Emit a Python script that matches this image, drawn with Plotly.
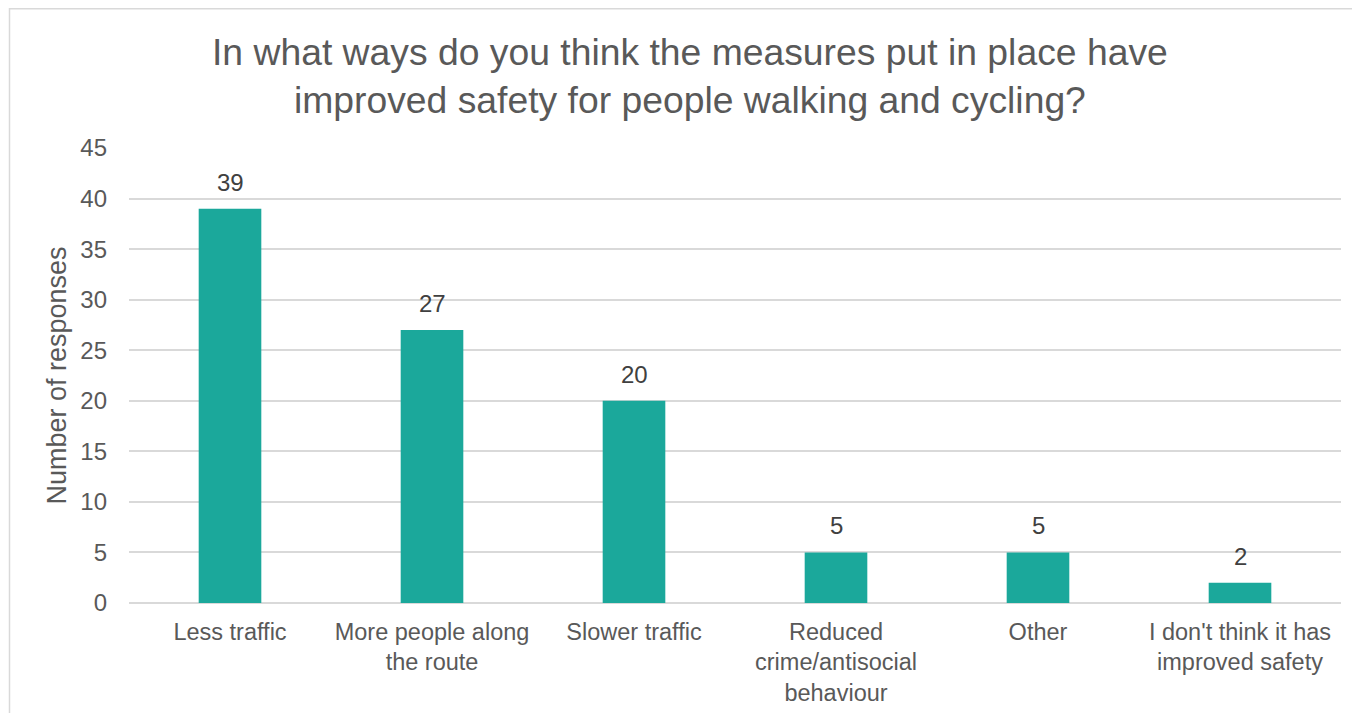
import plotly.graph_objects as go

categories = [
    "Less traffic",
    "More people along<br>the route",
    "Slower traffic",
    "Reduced<br>crime/antisocial<br>behaviour",
    "Other",
    "I don't think it has<br>improved safety",
]
responses = [39, 27, 20, 5, 5, 2]
y_ticks = [0, 5, 10, 15, 20, 25, 30, 35, 40, 45]
title_text = ("In what ways do you think the measures put in place have<br>"
              "improved safety for people walking and cycling?")

FONT = "Liberation Sans, Arial, sans-serif"
BAR = "#1BA89B"
GRID = "#D9D9D9"
TXT = "#595959"

# page has an 8px body margin, so the figure is sized to the visible area
W, H = 1352, 705
L, R, T, B = 121, 19, 140, 110
pw, ph = W - L - R, H - T - B

fig = go.Figure()
fig.add_trace(go.Bar(
    x=categories, y=responses, marker=dict(color=BAR, line=dict(width=0)),
    width=0.31, hoverinfo="x+y",
))

for c, v in zip(categories, responses):
    fig.add_annotation(x=c, y=v, text=str(v), showarrow=False, yanchor="bottom",
                       yshift=11, font=dict(family=FONT, size=24, color="#404040"))

# title as an annotation centred on the two lines
fig.add_annotation(text=title_text, xref="paper", yref="paper",
                   x=(682 - L) / pw, y=1 + (T - 67.5) / ph, xanchor="center", yanchor="middle",
                   showarrow=False, font=dict(family=FONT, size=37.3, color=TXT))

x0 = (1.5 - L) / pw
y0 = 1 + (T - 0.75) / ph
fig.add_shape(type="path", xref="paper", yref="paper",
              path=f"M {x0} -0.5 L {x0} {y0} L 1.2 {y0}",
              line=dict(color=GRID, width=1.5))

fig.update_layout(
    width=W, height=H,
    margin=dict(l=L, r=R, t=T, b=B, autoexpand=False),
    paper_bgcolor="white", plot_bgcolor="white",
    font=dict(family=FONT, color=TXT),
    showlegend=False,
    bargap=0.69,
)
fig.update_xaxes(showgrid=False, showline=False, ticks="", tickfont=dict(size=23.5, color=TXT),
                 ticklabelstandoff=12, automargin=False)
fig.update_yaxes(range=[0, 45], tickvals=y_ticks, showgrid=True, gridcolor=GRID, gridwidth=1.5,
                 zeroline=True, zerolinecolor=GRID, zerolinewidth=1.5, showline=False,
                 tickfont=dict(size=24, color=TXT), ticklabelstandoff=21, automargin=False,
                 title=dict(text="Number of responses", font=dict(size=27, color=TXT), standoff=5))

fig.write_html("out.html")
